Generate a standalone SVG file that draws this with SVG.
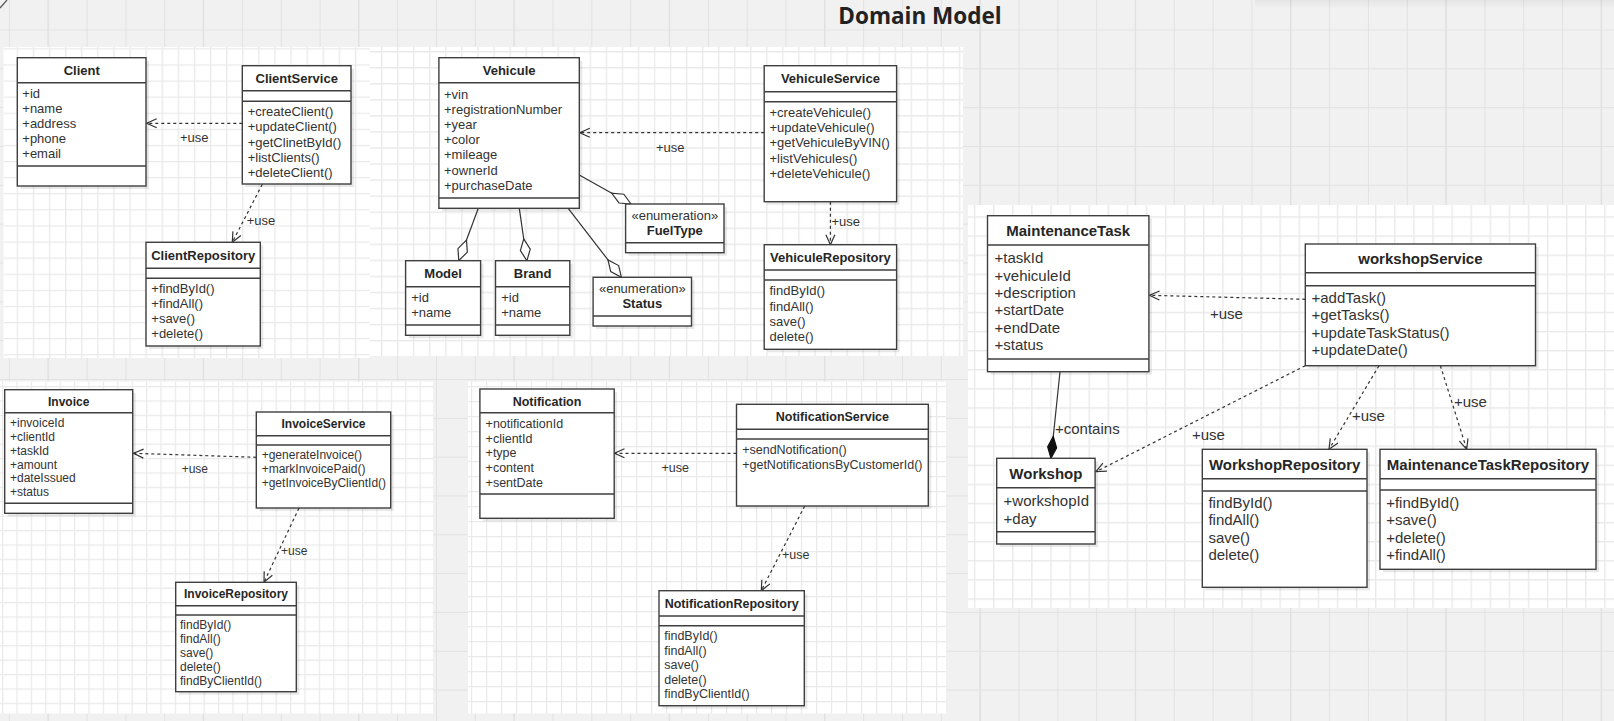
<svg xmlns="http://www.w3.org/2000/svg" width="1614" height="721" viewBox="0 0 1614 721">
<style>
.box{fill:#fff;stroke:#3f3f3f;stroke-width:1.4}
.sh{fill:#000;opacity:0.09}
.div{stroke:#3f3f3f;stroke-width:1.4;fill:none}
.t{font-family:"Liberation Sans",Arial,Helvetica,sans-serif;fill:#333}
.s12{font-size:12px}.s125{font-size:12.5px}.s13{font-size:13px}.s15{font-size:15px}
.b{font-weight:bold;text-anchor:middle;fill:#262626}
.dep{fill:none;stroke:#333;stroke-width:1.2;stroke-dasharray:3 3}
.sol{fill:none;stroke:#333;stroke-width:1.2}
.lbl{font-family:"Liberation Sans",Arial,Helvetica,sans-serif;fill:#333}
</style>
<defs>
<marker id="open" markerWidth="14" markerHeight="14" refX="11" refY="6" orient="auto" markerUnits="userSpaceOnUse">
<path d="M1,1.5 L11,6 L1,10.5" fill="none" stroke="#333" stroke-width="1.2"/>
</marker>
<marker id="hdia" markerWidth="26" markerHeight="14" refX="24" refY="7" orient="auto" markerUnits="userSpaceOnUse">
<path d="M24,7 L13,2 L2,7 L13,12 Z" fill="#fff" stroke="#333" stroke-width="1.2"/>
</marker>
<marker id="fdia" markerWidth="26" markerHeight="14" refX="24" refY="7" orient="auto" markerUnits="userSpaceOnUse">
<path d="M24,7 L13,2.5 L2,7 L13,11.5 Z" fill="#111" stroke="#111" stroke-width="1.2"/>
</marker>
<pattern id="gbg" patternUnits="userSpaceOnUse" x="8.9" y="29.5" width="38.83" height="38.83">
<path d="M0 0.5H38.83 M0.5 0V38.83" stroke="#e2e2e2" stroke-width="1"/>
</pattern>
<pattern id="gbgM" patternUnits="userSpaceOnUse" x="47.5" y="0" width="155.32" height="155.32">
<path d="M0.6 0V155.32" stroke="#e0e0e0" stroke-width="1.2"/>
</pattern>
<linearGradient id="topsh" x1="0" y1="0" x2="0" y2="1">
<stop offset="0" stop-color="#000" stop-opacity="0.05"/>
<stop offset="1" stop-color="#000" stop-opacity="0"/>
</linearGradient>
<pattern id="g1" patternUnits="userSpaceOnUse" x="0.6" y="0" width="16.1" height="16.1">
<path d="M0 0.65H16.1 M0.65 0V16.1" stroke="#e9e9e9" stroke-width="1.3"/>
</pattern>
<pattern id="g2" patternUnits="userSpaceOnUse" x="381" y="51" width="16.05" height="16.05">
<path d="M0 0.65H16.05 M0.65 0V16.05" stroke="#e9e9e9" stroke-width="1.3"/>
</pattern>
<pattern id="g3" patternUnits="userSpaceOnUse" x="1107.6" y="541" width="19.1" height="19.1">
<path d="M0 0.7H19.1 M0.7 0V19.1" stroke="#e9e9e9" stroke-width="1.4"/>
</pattern>
<pattern id="g4" patternUnits="userSpaceOnUse" x="2" y="386" width="14.4" height="14.4">
<path d="M0 0.6H14.4 M0.6 0V14.4" stroke="#e9e9e9" stroke-width="1.2"/>
</pattern>
<pattern id="g5" patternUnits="userSpaceOnUse" x="471" y="386" width="15" height="15">
<path d="M0 0.6H15 M0.6 0V15" stroke="#e9e9e9" stroke-width="1.2"/>
</pattern>
</defs>

<g id="background">
<rect x="0" y="0" width="1614" height="721" fill="#f1f1f1"/>
<rect x="0" y="0" width="1614" height="721" fill="url(#gbg)"/>
<rect x="0" y="0" width="1614" height="721" fill="url(#gbgM)"/>
<rect x="1255" y="0" width="359" height="9" fill="url(#topsh)"/>
<path d="M0,8 L7,0" stroke="#555" stroke-width="1.2"/>
<rect x="3.5" y="47" width="366.5" height="311" fill="#fff"/>
<rect x="3.5" y="47" width="366.5" height="311" fill="url(#g1)"/>
<rect x="370" y="47" width="593" height="309" fill="#fff"/>
<rect x="370" y="47" width="593" height="309" fill="url(#g2)"/>
<rect x="968" y="205" width="646" height="403" fill="#fff"/>
<rect x="968" y="205" width="646" height="403" fill="url(#g3)"/>
<rect x="0" y="381.5" width="433" height="332" fill="#fff"/>
<rect x="0" y="381.5" width="433" height="332" fill="url(#g4)"/>
<rect x="468" y="381.5" width="478" height="332" fill="#fff"/>
<rect x="468" y="381.5" width="478" height="332" fill="url(#g5)"/>
</g>

<g id="title">
<text x="920" y="23.5" text-anchor="middle" font-family="'Open Sans','Noto Sans',sans-serif" font-weight="bold" font-size="22.5" fill="#222">Domain Model</text>
</g>

<g id="connectors">
<path class="dep" d="M242.3,123.3 H146.7" marker-end="url(#open)"/>
<path class="dep" d="M262.3,184.3 L232.3,242.3" marker-end="url(#open)"/>
<path class="dep" d="M764.2,132.7 H579.8" marker-end="url(#open)"/>
<path class="dep" d="M830.4,201.7 V244.7" marker-end="url(#open)"/>
<path class="sol" d="M478.3,208.3 L458.8,260.7" marker-end="url(#hdia)"/>
<path class="sol" d="M519.3,208.3 L526.9,260.7" marker-end="url(#hdia)"/>
<path class="sol" d="M568.2,208.3 L621.4,277.3" marker-end="url(#hdia)"/>
<path class="sol" d="M579.3,175 L631,204" marker-end="url(#hdia)"/>
<path class="dep" d="M1305.3,299.3 L1149.5,295.3" marker-end="url(#open)"/>
<path class="sol" d="M1060,371.7 L1051,458.3" marker-end="url(#fdia)"/>
<path class="dep" d="M1305.3,365.7 L1096,471.7" marker-end="url(#open)"/>
<path class="dep" d="M1379,365.7 L1329,449.3" marker-end="url(#open)"/>
<path class="dep" d="M1440.4,365.7 L1466.7,449.3" marker-end="url(#open)"/>
<path class="dep" d="M256.3,457.3 L133.5,453.3" marker-end="url(#open)"/>
<path class="dep" d="M299,508 L264,582.3" marker-end="url(#open)"/>
<path class="dep" d="M736.5,453.3 H614.5" marker-end="url(#open)"/>
<path class="dep" d="M804.7,506 L761.3,590.7" marker-end="url(#open)"/>
<text class="lbl s13" x="180" y="142.3">+use</text>
<text class="lbl s13" x="246.7" y="224.6">+use</text>
<text class="lbl s13" x="656" y="152.3">+use</text>
<text class="lbl s13" x="831.5" y="226.3">+use</text>
<text class="lbl s15" x="1210" y="319.3">+use</text>
<text class="lbl s15" x="1055" y="433.6">+contains</text>
<text class="lbl s15" x="1192" y="439.6">+use</text>
<text class="lbl s15" x="1352" y="421">+use</text>
<text class="lbl s15" x="1454" y="406.6">+use</text>
<text class="lbl s12" x="181.7" y="472.6">+use</text>
<text class="lbl s12" x="281" y="555.3">+use</text>
<text class="lbl s125" x="661.4" y="472.2">+use</text>
<text class="lbl s125" x="782" y="558.5">+use</text>
</g>

<g id="Client">
<rect class="sh" x="20.3" y="60.7" width="128.7" height="128.3"/>
<rect class="box" x="17.3" y="57.7" width="128.7" height="128.3"/>
<path class="div" d="M17.3,82.7 H146 M17.3,166 H146"/>
<text class="t s13 b" x="81.7" y="75.3">Client</text>
<text class="t s13" x="22.3" y="97.9">+id</text>
<text class="t s13" x="22.3" y="113">+name</text>
<text class="t s13" x="22.3" y="128.1">+address</text>
<text class="t s13" x="22.3" y="143.2">+phone</text>
<text class="t s13" x="22.3" y="158.3">+email</text>
</g>

<g id="ClientService">
<rect class="sh" x="245.3" y="68.7" width="108.7" height="118.3"/>
<rect class="box" x="242.3" y="65.7" width="108.7" height="118.3"/>
<path class="div" d="M242.3,90.7 H351 M242.3,101.3 H351"/>
<text class="t s13 b" x="296.7" y="83.3">ClientService</text>
<text class="t s13" x="247.7" y="116.3">+createClient()</text>
<text class="t s13" x="247.7" y="131.4">+updateClient()</text>
<text class="t s13" x="247.7" y="146.5">+getClinetById()</text>
<text class="t s13" x="247.7" y="161.6">+listClients()</text>
<text class="t s13" x="247.7" y="176.7">+deleteClient()</text>
</g>

<g id="ClientRepository">
<rect class="sh" x="149" y="245.3" width="114.3" height="103.7"/>
<rect class="box" x="146" y="242.3" width="114.3" height="103.7"/>
<path class="div" d="M146,268.3 H260.3 M146,278.3 H260.3"/>
<text class="t s13 b" x="203.2" y="260.3">ClientRepository</text>
<text class="t s13" x="151.3" y="292.9">+findById()</text>
<text class="t s13" x="151.3" y="307.9">+findAll()</text>
<text class="t s13" x="151.3" y="322.9">+save()</text>
<text class="t s13" x="151.3" y="337.9">+delete()</text>
</g>

<g id="Vehicule">
<rect class="sh" x="441.9" y="60.7" width="140.4" height="150.6"/>
<rect class="box" x="438.9" y="57.7" width="140.4" height="150.6"/>
<path class="div" d="M438.9,82.7 H579.3 M438.9,198 H579.3"/>
<text class="t s13 b" x="509.1" y="74.6">Vehicule</text>
<text class="t s13" x="444" y="98.6">+vin</text>
<text class="t s13" x="444" y="113.8">+registrationNumber</text>
<text class="t s13" x="444" y="129">+year</text>
<text class="t s13" x="444" y="144.2">+color</text>
<text class="t s13" x="444" y="159.4">+mileage</text>
<text class="t s13" x="444" y="174.6">+ownerId</text>
<text class="t s13" x="444" y="189.8">+purchaseDate</text>
</g>

<g id="VehiculeService">
<rect class="sh" x="767.2" y="68.7" width="132.4" height="136"/>
<rect class="box" x="764.2" y="65.7" width="132.4" height="136"/>
<path class="div" d="M764.2,91.7 H896.6 M764.2,101.7 H896.6"/>
<text class="t s13 b" x="830.4" y="82.9">VehiculeService</text>
<text class="t s13" x="769.5" y="116.6">+createVehicule()</text>
<text class="t s13" x="769.5" y="131.9">+updateVehicule()</text>
<text class="t s13" x="769.5" y="147.2">+getVehiculeByVIN()</text>
<text class="t s13" x="769.5" y="162.5">+listVehicules()</text>
<text class="t s13" x="769.5" y="177.8">+deleteVehicule()</text>
</g>

<g id="VehiculeRepository">
<rect class="sh" x="767.2" y="247.7" width="132.4" height="104.6"/>
<rect class="box" x="764.2" y="244.7" width="132.4" height="104.6"/>
<path class="div" d="M764.2,270 H896.6 M764.2,280 H896.6"/>
<text class="t s13 b" x="830.4" y="262.3">VehiculeRepository</text>
<text class="t s13" x="769.5" y="295.3">findById()</text>
<text class="t s13" x="769.5" y="310.6">findAll()</text>
<text class="t s13" x="769.5" y="325.9">save()</text>
<text class="t s13" x="769.5" y="341.2">delete()</text>
</g>

<g id="FuelType">
<rect class="sh" x="628.6" y="207" width="98.4" height="48.7"/>
<rect class="box" x="625.6" y="204" width="98.4" height="48.7"/>
<path class="div" d="M625.6,242.7 H724"/>
<text class="t s13" x="674.8" y="219.6" text-anchor="middle">«enumeration»</text>
<text class="t s13 b" x="674.8" y="234.6">FuelType</text>
</g>

<g id="Status">
<rect class="sh" x="596.1" y="280.3" width="98.4" height="48.7"/>
<rect class="box" x="593.1" y="277.3" width="98.4" height="48.7"/>
<path class="div" d="M593.1,316 H691.5"/>
<text class="t s13" x="642.3" y="292.9" text-anchor="middle">«enumeration»</text>
<text class="t s13 b" x="642.3" y="307.9">Status</text>
</g>

<g id="Model">
<rect class="sh" x="408.6" y="263.7" width="75" height="74.6"/>
<rect class="box" x="405.6" y="260.7" width="75" height="74.6"/>
<path class="div" d="M405.6,286.7 H480.6 M405.6,325 H480.6"/>
<text class="t s13 b" x="443.1" y="277.9">Model</text>
<text class="t s13" x="411.2" y="301.9">+id</text>
<text class="t s13" x="411.2" y="317.3">+name</text>
</g>

<g id="Brand">
<rect class="sh" x="498.5" y="263.7" width="74.3" height="74.6"/>
<rect class="box" x="495.5" y="260.7" width="74.3" height="74.6"/>
<path class="div" d="M495.5,286.7 H569.8 M495.5,325 H569.8"/>
<text class="t s13 b" x="532.6" y="277.9">Brand</text>
<text class="t s13" x="501.2" y="301.9">+id</text>
<text class="t s13" x="501.2" y="317.3">+name</text>
</g>

<g id="MaintenanceTask">
<rect class="sh" x="990.5" y="218.7" width="161.4" height="156"/>
<rect class="box" x="987.5" y="215.7" width="161.4" height="156"/>
<path class="div" d="M987.5,245 H1148.9 M987.5,359 H1148.9"/>
<text class="t s15 b" x="1068.2" y="236">MaintenanceTask</text>
<text class="t s15" x="994.6" y="263">+taskId</text>
<text class="t s15" x="994.6" y="280.5">+vehiculeId</text>
<text class="t s15" x="994.6" y="297.9">+description</text>
<text class="t s15" x="994.6" y="315.4">+startDate</text>
<text class="t s15" x="994.6" y="332.8">+endDate</text>
<text class="t s15" x="994.6" y="350.3">+status</text>
</g>

<g id="workshopService">
<rect class="sh" x="1308.3" y="247" width="230.2" height="121.7"/>
<rect class="box" x="1305.3" y="244" width="230.2" height="121.7"/>
<path class="div" d="M1305.3,272.7 H1535.5 M1305.3,285.7 H1535.5"/>
<text class="t s15 b" x="1420.4" y="264.3">workshopService</text>
<text class="t s15" x="1311.5" y="302.6">+addTask()</text>
<text class="t s15" x="1311.5" y="320.2">+getTasks()</text>
<text class="t s15" x="1311.5" y="337.8">+updateTaskStatus()</text>
<text class="t s15" x="1311.5" y="355.3">+updateDate()</text>
</g>

<g id="Workshop">
<rect class="sh" x="999.7" y="461.3" width="98.4" height="85.7"/>
<rect class="box" x="996.7" y="458.3" width="98.4" height="85.7"/>
<path class="div" d="M996.7,487.7 H1095.1 M996.7,531.7 H1095.1"/>
<text class="t s15 b" x="1045.9" y="478.6">Workshop</text>
<text class="t s15" x="1003.6" y="506">+workshopId</text>
<text class="t s15" x="1003.6" y="523.6">+day</text>
</g>

<g id="WorkshopRepository">
<rect class="sh" x="1205.3" y="452.3" width="164.7" height="138"/>
<rect class="box" x="1202.3" y="449.3" width="164.7" height="138"/>
<path class="div" d="M1202.3,478.7 H1367 M1202.3,491 H1367"/>
<text class="t s15 b" x="1284.7" y="469.6">WorkshopRepository</text>
<text class="t s15" x="1208.4" y="508">findById()</text>
<text class="t s15" x="1208.4" y="525.4">findAll()</text>
<text class="t s15" x="1208.4" y="542.9">save()</text>
<text class="t s15" x="1208.4" y="560.3">delete()</text>
</g>

<g id="MaintenanceTaskRepository">
<rect class="sh" x="1383" y="452.3" width="216" height="120"/>
<rect class="box" x="1380" y="449.3" width="216" height="120"/>
<path class="div" d="M1380,478.7 H1596 M1380,490 H1596"/>
<text class="t s15 b" x="1488" y="469.6">MaintenanceTaskRepository</text>
<text class="t s15" x="1386.2" y="508">+findById()</text>
<text class="t s15" x="1386.2" y="525.4">+save()</text>
<text class="t s15" x="1386.2" y="542.9">+delete()</text>
<text class="t s15" x="1386.2" y="560.3">+findAll()</text>
</g>

<g id="Invoice">
<rect class="sh" x="7.7" y="392.7" width="128" height="123.6"/>
<rect class="box" x="4.7" y="389.7" width="128" height="123.6"/>
<path class="div" d="M4.7,412.7 H132.7 M4.7,503.3 H132.7"/>
<text class="t s12 b" x="68.7" y="406">Invoice</text>
<text class="t s12" x="10" y="427">+invoiceId</text>
<text class="t s12" x="10" y="440.9">+clientId</text>
<text class="t s12" x="10" y="454.7">+taskId</text>
<text class="t s12" x="10" y="468.6">+amount</text>
<text class="t s12" x="10" y="482.4">+dateIssued</text>
<text class="t s12" x="10" y="496.3">+status</text>
</g>

<g id="InvoiceService">
<rect class="sh" x="259.3" y="415" width="134.4" height="96"/>
<rect class="box" x="256.3" y="412" width="134.4" height="96"/>
<path class="div" d="M256.3,435.7 H390.7 M256.3,445 H390.7"/>
<text class="t s12 b" x="323.5" y="428.3">InvoiceService</text>
<text class="t s12" x="261.7" y="458.6">+generateInvoice()</text>
<text class="t s12" x="261.7" y="472.8">+markInvoicePaid()</text>
<text class="t s12" x="261.7" y="486.9">+getInvoiceByClientId()</text>
</g>

<g id="InvoiceRepository">
<rect class="sh" x="178.7" y="585.3" width="120.6" height="109.4"/>
<rect class="box" x="175.7" y="582.3" width="120.6" height="109.4"/>
<path class="div" d="M175.7,605.7 H296.3 M175.7,615 H296.3"/>
<text class="t s12 b" x="236" y="598.3">InvoiceRepository</text>
<text class="t s12" x="180" y="629.3">findById()</text>
<text class="t s12" x="180" y="643.2">findAll()</text>
<text class="t s12" x="180" y="657.1">save()</text>
<text class="t s12" x="180" y="671">delete()</text>
<text class="t s12" x="180" y="684.9">findByClientId()</text>
</g>

<g id="Notification">
<rect class="sh" x="482.9" y="392" width="134.3" height="129.3"/>
<rect class="box" x="479.9" y="389" width="134.3" height="129.3"/>
<path class="div" d="M479.9,412.7 H614.2 M479.9,494 H614.2"/>
<text class="t s125 b" x="547" y="405.5">Notification</text>
<text class="t s125" x="485.6" y="427.8">+notificationId</text>
<text class="t s125" x="485.6" y="442.5">+clientId</text>
<text class="t s125" x="485.6" y="457.2">+type</text>
<text class="t s125" x="485.6" y="471.9">+content</text>
<text class="t s125" x="485.6" y="486.5">+sentDate</text>
</g>

<g id="NotificationService">
<rect class="sh" x="739.5" y="407.3" width="191.8" height="101.7"/>
<rect class="box" x="736.5" y="404.3" width="191.8" height="101.7"/>
<path class="div" d="M736.5,429.3 H928.3 M736.5,439 H928.3"/>
<text class="t s125 b" x="832.4" y="421.2">NotificationService</text>
<text class="t s125" x="742.2" y="453.5">+sendNotification()</text>
<text class="t s125" x="742.2" y="468.5">+getNotificationsByCustomerId()</text>
</g>

<g id="NotificationRepository">
<rect class="sh" x="662" y="593.7" width="145.3" height="115"/>
<rect class="box" x="659" y="590.7" width="145.3" height="115"/>
<path class="div" d="M659,616 H804.3 M659,625.7 H804.3"/>
<text class="t s125 b" x="731.7" y="607.8">NotificationRepository</text>
<text class="t s125" x="664.2" y="640.2">findById()</text>
<text class="t s125" x="664.2" y="654.7">findAll()</text>
<text class="t s125" x="664.2" y="669.2">save()</text>
<text class="t s125" x="664.2" y="683.7">delete()</text>
<text class="t s125" x="664.2" y="698.2">findByClientId()</text>
</g>
</svg>
